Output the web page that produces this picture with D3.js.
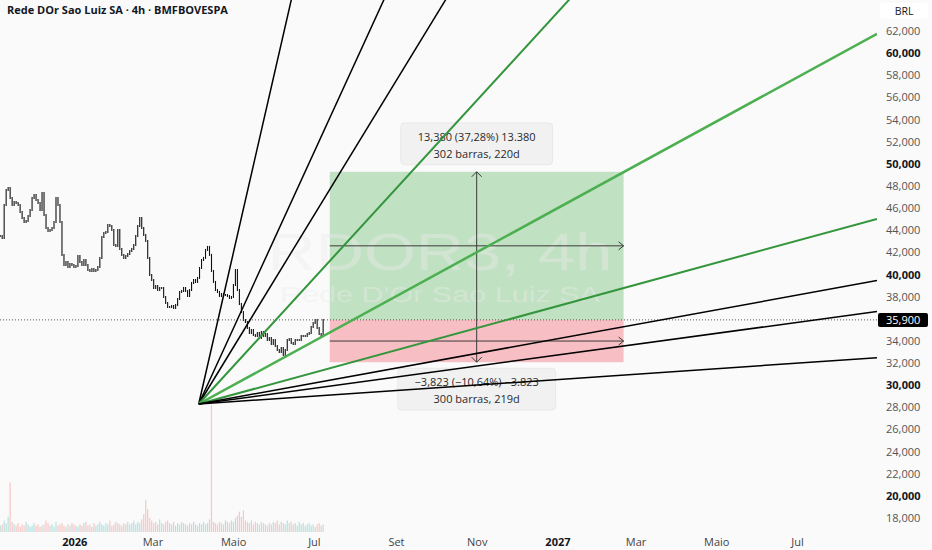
<!DOCTYPE html>
<html>
<head>
<meta charset="utf-8">
<script src="https://cdn.jsdelivr.net/npm/d3@7"></script>
<style>
    html, body { margin: 0; padding: 0; background: #fafafa; overflow: hidden; }
    svg { display: block; font-family: "Open Sans", sans-serif; }
</style>
</head>
<body>
<div id="chart"></div>
<script>
// Chart data
const title = "Rede DOr Sao Luiz SA · 4h · BMFBOVESPA";
const symbolMark = "RDOR3, 4h";
const companyMark = "Rede D'Or Sao Luiz SA";
const currency = "BRL";

const firstBarDate = "2025-11-06";
const lastBarDate = "2026-07-08";

// closes, one every few bars; open = previous close
const closes = [
    43480, 43300, 46280, 47640, 47820, 46910, 46280, 46550, 46460, 46280,
    45650, 45110, 44750, 44840, 45290, 45830, 46910, 47190, 46730, 46460,
    45830, 47370, 45380, 44200, 43930, 44020, 44200, 44750, 46910, 46280,
    44750, 41770, 40860, 41130, 40680, 40950, 40860, 40680, 40770, 41680,
    41130, 40860, 41310, 40860, 40410, 40320, 40500, 40320, 40410, 40680,
    41500, 43390, 43750, 43840, 44480, 44390, 44020, 42670, 42580, 44020,
    42310, 41770, 41500, 41680, 41860, 42130, 42310, 42670, 43480, 44390,
    45110, 44200, 43570, 43030, 41500, 39960, 39510, 38780, 38970, 38600,
    38780, 38780, 37970, 37430, 37070, 37070, 37160, 36980, 37250, 37790,
    38420, 38510, 38780, 38510, 38060, 38600, 39240, 39510, 39330, 39690,
    40590, 41310, 41500, 42220, 42490, 41770, 40320, 39330, 38600, 38420,
    38060, 38240, 38150, 38150, 38060, 37880, 37970, 39060, 40410, 38600,
    37340, 36620, 35890, 35710, 35170, 34720, 34990, 34540, 34450, 34720,
    34270, 34810, 34450, 34630, 34090, 34270, 33730, 34090, 33550, 33180,
    33000, 33370, 32730, 33180, 34090, 34180, 33820, 33730, 34090, 34090,
    34090, 34450, 34450, 34450, 34630, 34720, 35260, 35620, 35890, 35170,
    34630, 34450, 35900
];

// volume, arbitrary units
const volumes = [
    0.5, 0.6, 0.9, 0.7, 1.2, 3.9, 0.8, 0.6, 0.5, 0.7,
    0.4, 0.6, 0.5, 0.8, 0.6, 0.4, 0.5, 0.7, 0.5, 0.6,
    0.4, 0.5, 0.6, 0.9, 0.7, 0.5, 0.6, 0.4, 0.8, 0.5,
    0.6, 0.7, 0.5, 0.4, 0.6, 0.5, 0.7, 0.6, 0.5, 0.4,
    0.6, 0.5, 0.7, 0.8, 0.5, 0.6, 0.4, 0.7, 0.5, 0.6,
    0.8, 0.6, 0.5, 0.7, 0.6, 0.9, 0.5, 0.6, 0.8, 0.7,
    0.6, 0.5, 0.7, 0.6, 0.8, 0.6, 0.7, 0.9, 0.6, 0.8,
    0.7, 1.0, 1.4, 2.5, 1.8, 1.1, 0.9, 0.7, 0.8, 0.6,
    1.0, 0.7, 0.6, 0.8, 0.9, 0.7, 0.6, 0.8, 0.5, 0.7,
    0.6, 0.8, 0.7, 0.6, 0.5, 0.7, 0.6, 0.8, 0.6, 0.5,
    0.7, 0.6, 0.8, 0.6, 0.7, 1.0, 10.0, 0.8, 0.7, 0.6,
    0.8, 0.7, 0.6, 0.9, 0.8, 0.7, 0.9, 0.8, 1.1, 1.3,
    1.6, 1.2, 1.7, 0.9, 0.8, 0.7, 0.9, 0.6, 0.8, 0.7,
    0.6, 0.8, 0.7, 0.6, 0.5, 0.7, 0.6, 0.8, 0.7, 0.9,
    0.6, 0.8, 0.7, 0.6, 0.9, 0.7, 0.8, 0.6, 0.7, 0.5,
    0.8, 0.6, 0.7, 0.5, 0.6, 0.7, 0.5, 0.6, 0.4, 0.6,
    0.7, 0.5, 0.6
];

const priceTicks = [18000, 20000, 22000, 24000, 26000, 28000, 30000, 32000, 34000,
    38000, 40000, 42000, 44000, 46000, 48000, 50000, 52000, 54000, 56000, 58000, 60000, 62000];

const timeTicks = ["2026-01-01", "2026-03-01", "2026-05-01", "2026-07-01", "2026-09-01",
    "2026-11-01", "2027-01-01", "2027-03-01", "2027-05-01", "2027-07-01"];
const timeTickLabels = ["2026", "Mar", "Maio", "Jul", "Set", "Nov", "2027", "Mar", "Maio", "Jul"];

const lastPrice = 35900;

// Gann fan: origin and a point on the 1x1 line
const fanOrigin = { date: "2026-04-05", price: 28300 };
const fanUnit = { date: "2027-07-01", price: 57800 };
const fanRatios = [8, 4, 3, 2, 1, 1 / 2, 1 / 3, 1 / 4, 1 / 8];

// Date/price range tools
const rangeStart = "2026-07-13";
const rangeEnd = "2027-02-20";
const rangeUpPrice = 49280;
const rangeDownPrice = 32077;
const rangeUpLabels = ["13,380 (37,28%) 13.380", "302 barras, 220d"];
const rangeDownLabels = ["\u22123,823 (\u221210,64%) \u22123.823", "300 barras, 219d"];

// ---- layout ----
const width = 932;
const height = 550;
const plotRight = 877;
const plotBottom = 532;
const parse = d3.timeParse("%Y-%m-%d");

const fanColor = { 2: "#33953c", 1: "#4caf50", 0.5: "#33953c" };

const x = d3.scaleTime()
    .domain([new Date(2026, 0, 1), new Date(2027, 6, 1)])
    .range([74.3, 797]);

const y = d3.scaleLinear()
    .domain([18000, 62000])
    .range([518, 31]);

const xi = d3.scaleLinear()
    .domain([0, closes.length - 1])
    .range([x(parse(firstBarDate)), x(parse(lastBarDate))]);

const vy = d3.scaleLinear()
    .domain([0, 10])
    .range([plotBottom, 405]);

const svg = d3.select("#chart")
    .append("svg")
    .attr("width", width)
    .attr("height", height);

svg.append("rect")
    .attr("width", width)
    .attr("height", height)
    .attr("fill", "#fafafa");

svg.append("clipPath")
    .attr("id", "plot-clip")
    .append("rect")
    .attr("width", plotRight)
    .attr("height", plotBottom);

const plot = svg.append("g").attr("clip-path", "url(#plot-clip)");

// volume
const opens = closes.map((c, i) => i > 0 ? closes[i - 1] : c);
plot.append("g")
    .selectAll("rect")
    .data(volumes)
    .join("rect")
    .attr("x", (d, i) => xi(i) - 0.6)
    .attr("width", 1.2)
    .attr("y", d => vy(d))
    .attr("height", d => plotBottom - vy(d))
    .attr("fill", (d, i) => closes[i] >= opens[i] ? "rgba(38,166,154,0.3)" : "rgba(239,83,80,0.3)");

// range boxes
const rx0 = x(parse(rangeStart));
const rx1 = x(parse(rangeEnd));
const rxm = (rx0 + rx1) / 2;
const yBase = y(lastPrice);
const yUp = y(rangeUpPrice);
const yDown = y(rangeDownPrice);

plot.append("rect")
    .attr("x", rx0).attr("y", yUp)
    .attr("width", rx1 - rx0).attr("height", yBase - yUp)
    .attr("fill", "rgba(76,175,80,0.32)");

plot.append("rect")
    .attr("x", rx0).attr("y", yBase)
    .attr("width", rx1 - rx0).attr("height", yDown - yBase)
    .attr("fill", "rgba(242,54,69,0.30)");

// watermark
const wm = plot.append("g")
    .attr("text-anchor", "middle")
    .attr("font-family", "Liberation Sans, Arial, sans-serif")
    .attr("fill", "rgba(236,236,236,0.4)");
wm.append("text")
    .attr("x", 440).attr("y", 270)
    .attr("font-size", 52)
    .attr("textLength", 345)
    .attr("lengthAdjust", "spacingAndGlyphs")
    .text(symbolMark);
wm.append("text")
    .attr("x", 440).attr("y", 302)
    .attr("font-size", 22.5)
    .attr("textLength", 320)
    .attr("lengthAdjust", "spacingAndGlyphs")
    .text(companyMark);

// price bars
plot.append("g")
    .selectAll("line")
    .data(closes)
    .join("line")
    .attr("x1", (d, i) => xi(i))
    .attr("x2", (d, i) => xi(i))
    .attr("y1", (d, i) => Math.min(y(opens[i]), y(d)) - 1)
    .attr("y2", (d, i) => Math.max(y(opens[i]), y(d)) + 1)
    .attr("stroke", "#111")
    .attr("stroke-width", 1.1);

// last price dotted line
plot.append("line")
    .attr("x1", 0).attr("x2", plotRight)
    .attr("y1", yBase).attr("y2", yBase)
    .attr("stroke", "#555")
    .attr("stroke-width", 1)
    .attr("stroke-dasharray", "1,2");

// arrows
const arrows = plot.append("g")
    .attr("stroke", "#3a3a3a")
    .attr("stroke-width", 1)
    .attr("fill", "none");
arrows.append("line").attr("x1", rxm).attr("x2", rxm).attr("y1", yBase).attr("y2", yUp);
arrows.append("path").attr("d", `M${rxm - 5},${yUp + 5}L${rxm},${yUp}L${rxm + 5},${yUp + 5}`);
arrows.append("line").attr("x1", rxm).attr("x2", rxm).attr("y1", yBase).attr("y2", yDown);
arrows.append("path").attr("d", `M${rxm - 5},${yDown - 5}L${rxm},${yDown}L${rxm + 5},${yDown - 5}`);
[(yUp + yBase) / 2, (yBase + yDown) / 2].forEach(yy => {
    arrows.append("line").attr("x1", rx0).attr("x2", rx1).attr("y1", yy).attr("y2", yy);
    arrows.append("path").attr("d", `M${rx1 - 5},${yy - 4}L${rx1},${yy}L${rx1 - 5},${yy + 4}`);
});

// range labels
function rangeLabel(lines, top, w) {
    const g = plot.append("g");
    g.append("rect")
        .attr("x", rxm - w / 2).attr("y", top)
        .attr("width", w).attr("height", 42)
        .attr("rx", 4)
        .attr("fill", "#f1f1f1")
        .attr("stroke", "rgba(0,0,0,0.05)");
    lines.forEach((t, i) => {
        g.append("text")
            .attr("x", rxm).attr("y", top + 18 + i * 17)
            .attr("text-anchor", "middle")
            .attr("font-size", 11)
            .attr("fill", "#2a2a2a")
            .text(t);
    });
}
rangeLabel(rangeUpLabels, yUp - 49, 152);
rangeLabel(rangeDownLabels, yDown + 6, 158);

// gann fan
const t0 = parse(fanOrigin.date);
const rate = (fanUnit.price - fanOrigin.price) / (parse(fanUnit.date) - t0);
const tEnd = x.invert(plotRight);
plot.append("g")
    .selectAll("line")
    .data(fanRatios)
    .join("line")
    .attr("x1", x(t0))
    .attr("y1", y(fanOrigin.price))
    .attr("x2", x(tEnd))
    .attr("y2", r => y(fanOrigin.price + r * rate * (tEnd - t0)))
    .attr("stroke", r => fanColor[r] || "#000")
    .attr("stroke-width", r => r === 1 ? 2.5 : (fanColor[r] ? 2 : 1.5));

// price axis
const yAxis = svg.append("g")
    .attr("transform", `translate(${plotRight},0)`)
    .call(d3.axisRight(y).tickValues(priceTicks).tickSize(0).tickPadding(9).tickFormat(d3.format(",")));
yAxis.select(".domain").remove();
yAxis.selectAll("text")
    .attr("font-family", "Open Sans, sans-serif")
    .attr("font-size", 11)
    .attr("font-weight", d => d % 10000 === 0 ? 700 : 400)
    .attr("fill", d => d % 10000 === 0 ? "#131722" : "#555");

// time axis
const xAxis = svg.append("g")
    .attr("transform", `translate(0,${plotBottom})`)
    .call(d3.axisBottom(x).tickValues(timeTicks.map(parse)).tickSize(0).tickPadding(6)
        .tickFormat((d, i) => timeTickLabels[i]));
xAxis.select(".domain").remove();
xAxis.selectAll("text")
    .attr("font-family", "Open Sans, sans-serif")
    .attr("font-size", 11)
    .attr("font-weight", (d, i) => /^\d+$/.test(timeTickLabels[i]) ? 700 : 400)
    .attr("fill", (d, i) => /^\d+$/.test(timeTickLabels[i]) ? "#131722" : "#444");

// currency box
svg.append("rect")
    .attr("x", 880).attr("y", 3)
    .attr("width", 48).attr("height", 16)
    .attr("rx", 3)
    .attr("fill", "#fff");
svg.append("text")
    .attr("x", 904).attr("y", 15)
    .attr("text-anchor", "middle")
    .attr("font-size", 10.5)
    .attr("fill", "#131722")
    .text(currency);

// last price label
svg.append("rect")
    .attr("x", 878).attr("y", yBase - 7)
    .attr("width", 50).attr("height", 14)
    .attr("rx", 2)
    .attr("fill", "#000");
svg.append("text")
    .attr("x", 886).attr("y", yBase + 4)
    .attr("font-size", 11)
    .attr("fill", "#fff")
    .text(d3.format(",")(lastPrice));

// title
svg.append("text")
    .attr("x", 7).attr("y", 14)
    .attr("font-size", 11)
    .attr("font-weight", 700)
    .attr("fill", "#131722")
    .text(title);
</script>
</body>
</html>
